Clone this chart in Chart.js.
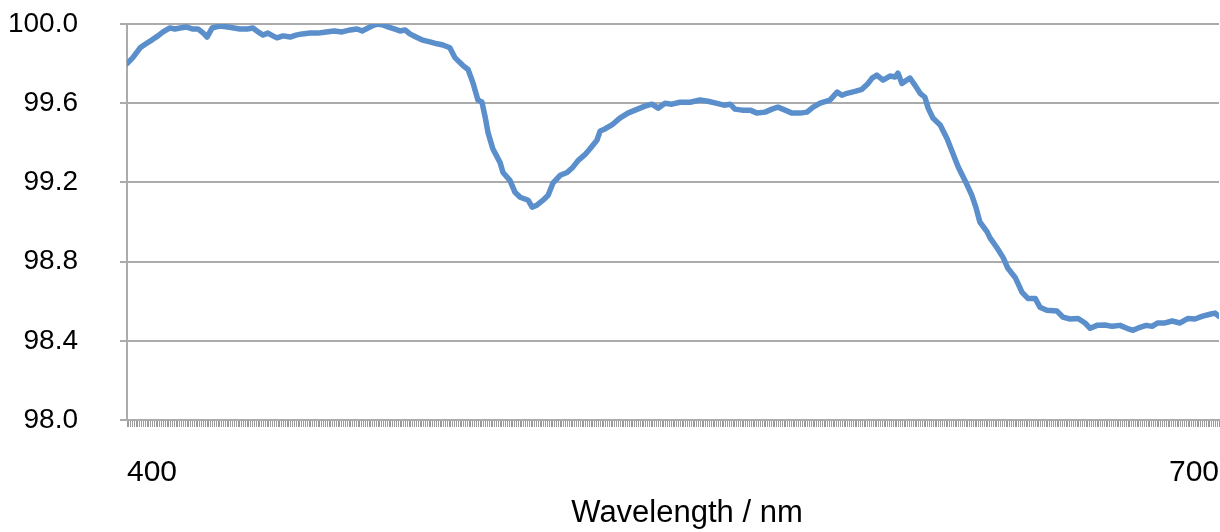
<!DOCTYPE html>
<html>
<head>
<meta charset="utf-8">
<script src="https://cdn.jsdelivr.net/npm/chart.js@4/dist/chart.umd.min.js"></script>
<style>
html,body{margin:0;padding:0;background:#fff;}
#wrap{width:1220px;height:532px;position:relative;}
</style>
</head>
<body>
<div id="wrap"><canvas id="c"></canvas></div>
<script>
const wavelengths = [400.0,401.6,403.6,405.2,406.9,408.5,409.9,411.8,413.2,414.6,416.2,417.9,419.5,421.2,422.0,423.4,425.5,427.7,429.4,431.0,433.0,434.6,436.0,437.4,438.7,440.1,441.2,442.9,444.8,446.4,448.1,450.3,452.5,454.7,456.9,459.1,461.3,463.2,464.6,466.2,467.9,469.0,470.3,471.7,473.4,475.0,476.4,477.7,479.4,481.0,483.2,485.2,486.8,488.7,490.1,491.2,492.3,493.7,495.1,496.4,497.5,498.4,499.2,500.5,502.5,503.3,505.2,506.6,508.0,510.2,511.3,512.6,514.3,515.7,517.0,519.0,520.9,522.5,523.9,525.8,527.2,529.1,530.0,531.3,533.2,535.4,537.6,539.6,542.3,544.2,545.9,547.8,549.7,551.9,554.7,557.4,559.6,561.8,564.0,565.7,567.0,569.0,571.2,573.1,575.3,577.2,578.8,580.8,582.7,584.9,586.8,588.5,590.4,593.1,595.1,596.4,597.8,600.0,601.9,603.6,604.7,606.0,607.7,609.6,611.0,611.8,612.9,615.1,616.5,617.9,619.2,620.1,621.4,623.4,625.3,626.6,628.3,630.2,632.1,633.2,634.3,636.3,637.1,639.0,640.7,642.0,644.0,645.9,647.5,649.5,650.8,652.7,655.5,657.1,659.1,661.3,663.2,664.6,666.5,668.7,670.6,672.8,674.7,676.4,678.3,680.0,681.6,683.2,685.2,687.1,689.3,691.5,693.4,695.3,697.5,698.9,700.0];
const transmittance = [99.80,99.83,99.88,99.90,99.92,99.94,99.96,99.98,99.975,99.98,99.985,99.975,99.975,99.95,99.934,99.98,99.99,99.985,99.98,99.975,99.975,99.98,99.96,99.944,99.954,99.94,99.93,99.94,99.934,99.944,99.95,99.954,99.954,99.96,99.965,99.96,99.97,99.975,99.965,99.98,99.995,100.0,99.995,99.985,99.975,99.965,99.97,99.95,99.934,99.92,99.91,99.90,99.894,99.88,99.83,99.81,99.79,99.77,99.70,99.616,99.606,99.53,99.45,99.37,99.30,99.25,99.21,99.15,99.125,99.11,99.075,99.085,99.11,99.135,99.196,99.236,99.25,99.277,99.31,99.34,99.37,99.413,99.46,99.47,99.49,99.525,99.55,99.565,99.585,99.595,99.575,99.60,99.595,99.605,99.605,99.616,99.61,99.60,99.59,99.595,99.57,99.565,99.565,99.55,99.555,99.57,99.58,99.565,99.55,99.55,99.555,99.58,99.60,99.616,99.656,99.64,99.65,99.66,99.67,99.70,99.727,99.742,99.717,99.737,99.732,99.752,99.70,99.727,99.69,99.65,99.63,99.575,99.525,99.49,99.42,99.36,99.28,99.21,99.135,99.075,99.00,98.95,98.92,98.87,98.82,98.766,98.72,98.645,98.614,98.614,98.57,98.554,98.55,98.52,98.51,98.513,98.49,98.463,98.478,98.48,98.473,98.478,98.463,98.453,98.468,98.478,98.473,98.49,98.49,98.50,98.49,98.513,98.51,98.523,98.534,98.54,98.523];
const xLabels = [400, 700];
const yMin = 98.0, yMax = 100.0, yStep = 0.4;
const xTitle = 'Wavelength / nm';

const FONT = "'Liberation Sans', Arial, Helvetica, sans-serif";
const GRID = '#ababab';

const titlePlugin = {
  id: 'xTitle',
  afterDraw(chart) {
    const ctx = chart.ctx;
    ctx.save();
    ctx.font = '31px ' + FONT;
    ctx.fillStyle = '#000';
    ctx.textAlign = 'center';
    ctx.textBaseline = 'middle';
    ctx.fillText(xTitle, 687, 513);
    ctx.restore();
  }
};

new Chart(document.getElementById('c'), {
  type: 'line',
  data: {
    datasets: [{
      data: wavelengths.map((w, i) => ({x: w, y: transmittance[i]})),
      borderColor: '#5a8fcb',
      borderWidth: 5.5,
      borderJoinStyle: 'round',
      borderCapStyle: 'round',
      pointRadius: 0,
      tension: 0,
      fill: false
    }]
  },
  options: {
    responsive: true,
    maintainAspectRatio: false,
    devicePixelRatio: 1,
    animation: false,
    layout: {padding: {left: 8, right: 1, top: 24, bottom: 0}},
    plugins: {legend: {display: false}, tooltip: {enabled: false}},
    scales: {
      x: {
        type: 'linear',
        min: 400, max: 700,
        border: {display: true, color: GRID, width: 2},
        grid: {display: true, drawOnChartArea: false, drawTicks: true, tickLength: 7, color: '#9c9c9c', lineWidth: 1},
        ticks: {
          stepSize: 0.5,
          autoSkip: false,
          maxRotation: 0, minRotation: 0,
          align: 'inner',
          padding: 28,
          color: '#000',
          font: {family: FONT, size: 30},
          callback: (v) => xLabels.includes(v) ? String(v) : ''
        },
        afterFit: (s) => { s.height = 112; s.paddingLeft = 0; s.paddingRight = 0; }
      },
      y: {
        min: yMin, max: yMax,
        border: {display: true, color: GRID, width: 2},
        grid: {color: GRID, lineWidth: 2, tickLength: 7},
        ticks: {
          stepSize: yStep,
          padding: 42,
          color: '#000',
          font: {family: FONT, size: 28},
          callback: (v) => Number(v).toFixed(1)
        },
        afterFit: (s) => { s.width = 119; s.paddingTop = 0; s.paddingBottom = 0; }
      }
    }
  },
  plugins: [titlePlugin]
});
</script>
</body>
</html>
